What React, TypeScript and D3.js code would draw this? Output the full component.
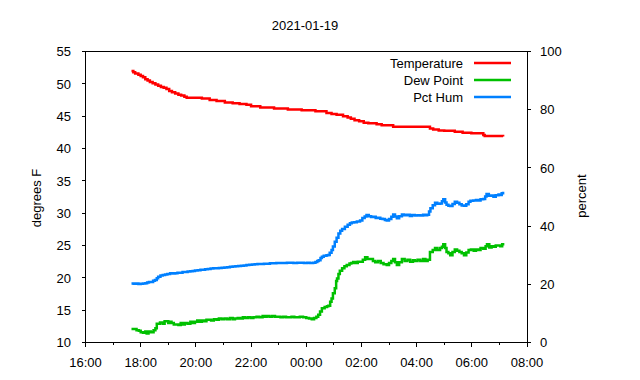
import React from "react";
import * as d3 from "d3";

const title = "2021-01-19";
const yLeftLabel = "degrees F";
const yRightLabel = "percent";
const seriesNames = ["Temperature", "Dew Point", "Pct Hum"];
const seriesColors = ["#ff0000", "#00c000", "#0080ff"];
const xTickLabels = ["16:00", "18:00", "20:00", "22:00", "00:00", "02:00", "04:00", "06:00", "08:00"];
const leftTicks = [10, 15, 20, 25, 30, 35, 40, 45, 50, 55];
const rightTicks = [0, 20, 40, 60, 80, 100];

// [time, degrees F]
const temperature: [string, number][] = [
  ["17:40", 52.0], ["17:44", 51.8], ["17:48", 51.6], ["17:55", 51.4], ["18:00", 51.2], ["18:05", 51.0],
  ["18:10", 50.7], ["18:15", 50.5], ["18:20", 50.3], ["18:26", 50.1], ["18:32", 49.9], ["18:38", 49.7],
  ["18:44", 49.5], ["18:50", 49.4], ["18:56", 49.2], ["19:02", 48.9], ["19:08", 48.7], ["19:15", 48.5],
  ["19:22", 48.3], ["19:28", 48.2], ["19:35", 48.0], ["19:40", 47.85], ["20:13", 47.75], ["20:30", 47.5],
  ["20:45", 47.35], ["21:03", 47.1], ["21:20", 47.0], ["21:35", 46.9], ["21:50", 46.75], ["22:00", 46.55],
  ["22:20", 46.35], ["22:50", 46.2], ["23:20", 46.05], ["23:50", 45.9], ["00:20", 45.75], ["00:44", 45.5],
  ["00:55", 45.35], ["01:06", 45.2], ["01:20", 45.0], ["01:30", 44.8], ["01:37", 44.6], ["01:45", 44.35],
  ["01:55", 44.2], ["02:05", 44.0], ["02:15", 43.9], ["02:33", 43.75], ["02:44", 43.6], ["03:09", 43.37],
  ["04:29", 43.1], ["04:36", 42.95], ["04:48", 42.8], ["05:00", 42.75], ["05:23", 42.6], ["05:40", 42.45],
  ["05:59", 42.35], ["06:25", 42.1], ["06:28", 41.95], ["07:08", 41.85],
];

// [time, degrees F]
const dewPoint: [string, number][] = [
  ["17:40", 12.1], ["17:45", 12.1], ["17:51", 11.9], ["17:56", 11.8], ["18:00", 11.6], ["18:05", 11.5],
  ["18:10", 11.7], ["18:13", 11.4], ["18:17", 11.7], ["18:22", 11.6], ["18:28", 11.9], ["18:32", 12.2],
  ["18:35", 12.9], ["18:38", 12.9], ["18:42", 13.1], ["18:48", 12.9], ["18:52", 13.3], ["18:56", 13.3],
  ["19:00", 13.0], ["19:04", 13.2], ["19:07", 13.0], ["19:12", 12.8], ["19:17", 12.8], ["19:22", 12.7],
  ["19:27", 13.0], ["19:31", 12.8], ["19:36", 13.0], ["19:42", 12.9], ["19:48", 13.2], ["19:53", 13.0],
  ["19:58", 13.2], ["20:03", 13.4], ["20:08", 13.2], ["20:13", 13.4], ["20:18", 13.3], ["20:23", 13.5],
  ["20:27", 13.5], ["20:33", 13.4], ["20:39", 13.6], ["20:45", 13.5], ["20:50", 13.7], ["20:56", 13.6],
  ["21:02", 13.7], ["21:08", 13.6], ["21:14", 13.8], ["21:20", 13.6], ["21:25", 13.7], ["21:31", 13.8],
  ["21:36", 13.7], ["21:42", 13.9], ["21:47", 13.8], ["21:53", 13.9], ["21:59", 13.8], ["22:05", 13.9],
  ["22:12", 14.0], ["22:18", 13.9], ["22:25", 14.1], ["22:30", 14.0], ["22:34", 14.1], ["22:40", 14.0],
  ["22:46", 14.1], ["22:52", 14.0], ["22:58", 14.0], ["23:04", 13.9], ["23:10", 14.0], ["23:16", 13.9],
  ["23:22", 13.9], ["23:28", 14.0], ["23:34", 13.9], ["23:40", 13.9], ["23:46", 14.0], ["23:53", 13.9],
  ["00:00", 13.8], ["00:06", 13.7], ["00:12", 13.6], ["00:17", 13.8], ["00:22", 14.0], ["00:26", 14.3],
  ["00:30", 14.8], ["00:34", 15.3], ["00:40", 15.5], ["00:45", 15.6], ["00:48", 15.7], ["00:52", 16.3],
  ["00:55", 16.8], ["00:58", 17.6], ["01:02", 18.4], ["01:05", 19.5], ["01:07", 19.9], ["01:10", 20.6],
  ["01:13", 21.1], ["01:18", 21.5], ["01:23", 21.8], ["01:28", 22.0], ["01:34", 22.2], ["01:38", 22.3],
  ["01:42", 22.45], ["01:47", 22.3], ["01:52", 22.5], ["01:57", 22.5], ["02:03", 22.8], ["02:08", 23.2],
  ["02:13", 22.9], ["02:19", 22.9], ["02:25", 22.6], ["02:30", 22.4], ["02:36", 22.6], ["02:42", 22.3],
  ["02:48", 22.1], ["02:55", 22.0], ["03:00", 22.3], ["03:05", 22.6], ["03:09", 22.9], ["03:13", 22.4],
  ["03:17", 22.0], ["03:22", 22.4], ["03:28", 22.9], ["03:34", 22.6], ["03:40", 22.8], ["03:46", 22.5],
  ["03:52", 22.7], ["03:56", 22.6], ["04:02", 22.8], ["04:08", 22.6], ["04:14", 22.9], ["04:19", 22.6],
  ["04:24", 22.8], ["04:29", 24.0], ["04:35", 24.3], ["04:40", 24.6], ["04:45", 24.3], ["04:51", 24.6],
  ["04:55", 24.8], ["04:58", 25.2], ["05:02", 24.6], ["05:05", 24.0], ["05:09", 23.8], ["05:13", 23.5],
  ["05:18", 24.0], ["05:23", 24.4], ["05:28", 24.2], ["05:33", 24.0], ["05:38", 23.8], ["05:43", 23.5],
  ["05:48", 23.9], ["05:53", 24.3], ["05:58", 24.4], ["06:04", 24.2], ["06:09", 24.4], ["06:14", 24.3],
  ["06:19", 24.6], ["06:25", 24.5], ["06:30", 24.9], ["06:33", 25.2], ["06:38", 24.7], ["06:43", 24.9],
  ["06:47", 24.8], ["06:52", 25.0], ["06:58", 25.0], ["07:02", 24.9], ["07:06", 25.2], ["07:08", 25.4],
];

// [time, percent]
const pctHum: [string, number][] = [
  ["17:40", 20.3], ["17:45", 20.2], ["17:50", 20.3], ["17:55", 20.1], ["18:00", 20.2], ["18:05", 20.3],
  ["18:10", 20.4], ["18:14", 20.6], ["18:18", 20.8], ["18:22", 20.8], ["18:27", 21.2], ["18:31", 21.5],
  ["18:35", 22.1], ["18:38", 22.6], ["18:43", 23.0], ["18:48", 23.2], ["18:53", 23.4], ["18:58", 23.5],
  ["19:04", 23.8], ["19:10", 23.7], ["19:15", 23.8], ["19:20", 24.0], ["19:26", 24.0], ["19:31", 24.2],
  ["19:36", 24.2], ["19:42", 24.4], ["19:48", 24.5], ["19:53", 24.6], ["19:58", 24.7], ["20:04", 24.8],
  ["20:10", 25.0], ["20:15", 25.0], ["20:20", 25.2], ["20:26", 25.3], ["20:32", 25.4], ["20:38", 25.5],
  ["20:44", 25.5], ["20:50", 25.6], ["20:56", 25.7], ["21:02", 25.8], ["21:08", 25.9], ["21:14", 26.0],
  ["21:20", 26.1], ["21:26", 26.2], ["21:32", 26.3], ["21:38", 26.4], ["21:44", 26.5], ["21:50", 26.6],
  ["21:56", 26.7], ["22:02", 26.8], ["22:08", 26.9], ["22:14", 27.0], ["22:20", 27.0], ["22:28", 27.1],
  ["22:35", 27.1], ["22:41", 27.2], ["22:48", 27.2], ["22:55", 27.3], ["23:02", 27.3], ["23:10", 27.3],
  ["23:18", 27.4], ["23:25", 27.4], ["23:32", 27.3], ["23:40", 27.4], ["23:48", 27.4], ["23:55", 27.3],
  ["00:02", 27.4], ["00:08", 27.3], ["00:15", 27.4], ["00:20", 27.7], ["00:24", 28.0], ["00:27", 28.3],
  ["00:31", 29.0], ["00:34", 29.5], ["00:38", 29.8], ["00:44", 30.0], ["00:48", 30.1], ["00:51", 30.8],
  ["00:55", 31.8], ["00:58", 33.0], ["01:02", 34.6], ["01:06", 36.0], ["01:10", 37.5], ["01:14", 38.4],
  ["01:18", 39.0], ["01:24", 39.8], ["01:30", 40.5], ["01:35", 41.0], ["01:39", 41.2], ["01:44", 41.3],
  ["01:50", 41.6], ["01:57", 41.9], ["02:02", 42.8], ["02:07", 43.3], ["02:11", 43.8], ["02:16", 43.4],
  ["02:21", 43.1], ["02:26", 43.2], ["02:31", 42.8], ["02:36", 42.9], ["02:41", 42.5], ["02:46", 42.4],
  ["02:51", 42.1], ["02:55", 41.9], ["03:00", 42.4], ["03:05", 43.2], ["03:09", 44.0], ["03:13", 43.3],
  ["03:17", 42.7], ["03:22", 43.4], ["03:28", 44.0], ["03:33", 43.7], ["03:39", 43.9], ["03:45", 43.5],
  ["03:50", 43.8], ["03:56", 43.6], ["04:02", 43.7], ["04:08", 43.6], ["04:14", 43.9], ["04:19", 43.7],
  ["04:23", 43.9], ["04:27", 45.0], ["04:30", 46.1], ["04:35", 47.2], ["04:40", 48.0], ["04:45", 47.7],
  ["04:51", 47.8], ["04:55", 48.5], ["04:58", 49.2], ["05:02", 48.1], ["05:05", 47.3], ["05:09", 47.0],
  ["05:13", 46.9], ["05:18", 47.6], ["05:23", 48.4], ["05:28", 48.0], ["05:33", 47.5], ["05:38", 47.1],
  ["05:43", 47.0], ["05:48", 47.5], ["05:53", 48.4], ["05:57", 48.7], ["06:03", 48.8], ["06:09", 49.0],
  ["06:14", 48.8], ["06:19", 49.2], ["06:25", 49.3], ["06:29", 50.2], ["06:32", 51.0], ["06:37", 50.4],
  ["06:42", 50.5], ["06:47", 50.1], ["06:52", 50.6], ["06:58", 50.9], ["07:02", 50.7], ["07:05", 51.3],
  ["07:08", 51.8],
];

const W = 640;
const H = 380;
const M = { left: 85.5, right: 527, top: 51.5, bottom: 342.5 };
const FONT = "'Liberation Sans', Arial, Helvetica, sans-serif";
const FS = 13;

function toDate(t: string): Date {
  const [hh, mm] = t.split(":").map(Number);
  const day = hh >= 16 ? 18 : 19;
  return new Date(2021, 0, day, hh, mm);
}

export default function App() {
  const x = d3.scaleTime().domain([toDate("16:00"), toDate("08:00")]).range([M.left, M.right]);
  const yL = d3.scaleLinear().domain([10, 55]).range([M.bottom, M.top]);
  const yR = d3.scaleLinear().domain([0, 100]).range([M.bottom, M.top]);

  const lineL = d3
    .line<[string, number]>()
    .x((d) => x(toDate(d[0])))
    .y((d) => yL(d[1]))
    .curve(d3.curveStepAfter);
  const lineR = d3
    .line<[string, number]>()
    .x((d) => x(toDate(d[0])))
    .y((d) => yR(d[1]))
    .curve(d3.curveStepAfter);

  const majorX = xTickLabels.map((t) => toDate(t));
  const minorX = d3.timeHour.range(toDate("16:00"), toDate("08:00"), 1).filter((d) => d.getHours() % 2 === 1);
  const fmt = d3.timeFormat("%H:%M");

  const legendX = 463;
  const legendY = [63, 80, 97];

  return (
    <svg width={W} height={H} style={{ position: "absolute", left: 0, top: 0, background: "#fff" }}>
      <rect x={0} y={0} width={W} height={H} fill="#fff" />
      <text x={305} y={30} textAnchor="middle" fontFamily={FONT} fontSize={FS} fill="#000">
        {title}
      </text>

      {/* data */}
      <path d={lineL(temperature) || ""} fill="none" stroke={seriesColors[0]} strokeWidth={2.5} />
      <path d={lineL(dewPoint) || ""} fill="none" stroke={seriesColors[1]} strokeWidth={2.5} />
      <path d={lineR(pctHum) || ""} fill="none" stroke={seriesColors[2]} strokeWidth={2.5} />

      {/* border */}
      <rect
        x={M.left}
        y={M.top}
        width={M.right - M.left}
        height={M.bottom - M.top}
        fill="none"
        stroke="#000"
        strokeWidth={1}
        shapeRendering="crispEdges"
      />

      {/* left ticks */}
      {leftTicks.map((v) => (
        <g key={"l" + v}>
          <line x1={M.left - 4} x2={M.left} y1={yL(v)} y2={yL(v)} stroke="#000" shapeRendering="crispEdges" />
          <text x={71} y={yL(v)} dy="0.36em" textAnchor="end" fontFamily={FONT} fontSize={FS} fill="#000">
            {v}
          </text>
        </g>
      ))}
      {/* right ticks */}
      {rightTicks.map((v) => (
        <g key={"r" + v}>
          <line x1={M.right} x2={M.right + 4} y1={yR(v)} y2={yR(v)} stroke="#000" shapeRendering="crispEdges" />
          <text x={540} y={yR(v)} dy="0.36em" textAnchor="start" fontFamily={FONT} fontSize={FS} fill="#000">
            {v}
          </text>
        </g>
      ))}
      {/* x ticks */}
      {majorX.map((d, i) => (
        <g key={"x" + i}>
          <line x1={x(d)} x2={x(d)} y1={M.bottom} y2={M.bottom + 4} stroke="#000" shapeRendering="crispEdges" />
          <text x={x(d)} y={367} textAnchor="middle" fontFamily={FONT} fontSize={FS} fill="#000">
            {fmt(d)}
          </text>
        </g>
      ))}
      {minorX.map((d, i) => (
        <line
          key={"m" + i}
          x1={x(d)}
          x2={x(d)}
          y1={M.bottom}
          y2={M.bottom + 2}
          stroke="#000"
          shapeRendering="crispEdges"
        />
      ))}

      {/* axis labels */}
      <text
        transform={`translate(40.5,198) rotate(-90)`}
        textAnchor="middle"
        fontFamily={FONT}
        fontSize={FS}
        fill="#000"
      >
        {yLeftLabel}
      </text>
      <text
        transform={`translate(585.5,196) rotate(-90)`}
        textAnchor="middle"
        fontFamily={FONT}
        fontSize={FS}
        fill="#000"
      >
        {yRightLabel}
      </text>

      {/* legend */}
      {seriesNames.map((n, i) => (
        <g key={n}>
          <text x={legendX} y={legendY[i]} dy="0.36em" textAnchor="end" fontFamily={FONT} fontSize={FS} fill="#000">
            {n}
          </text>
          <line
            x1={474}
            x2={511}
            y1={legendY[i]}
            y2={legendY[i]}
            stroke={seriesColors[i]}
            strokeWidth={2.5}
          />
        </g>
      ))}
    </svg>
  );
}
